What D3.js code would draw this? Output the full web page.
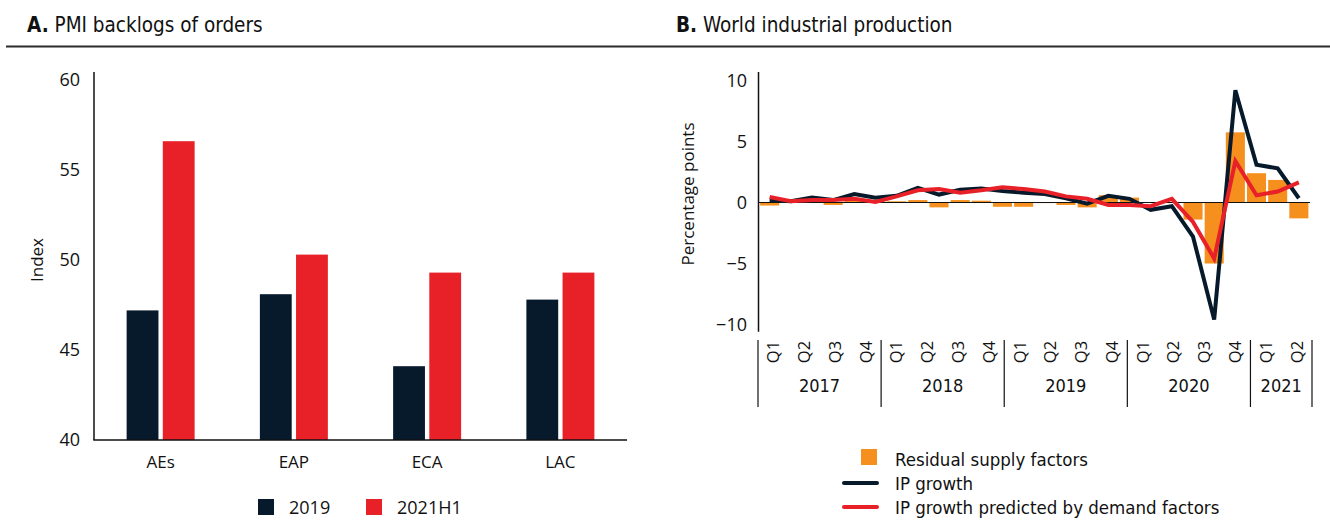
<!DOCTYPE html>
<html>
<head>
<meta charset="utf-8">
<script src="https://cdn.jsdelivr.net/npm/d3@7"></script>
<style>
  body { margin: 0; background: #fff; }
  svg { display: block; }
  .cond { font-family: "Liberation Sans Narrow", "DejaVu Sans Condensed", sans-serif; }
  .reg { font-family: "Open Sans", sans-serif; }
</style>
</head>
<body>
<script>
// panel A data
var regions = ["AEs", "EAP", "ECA", "LAC"];
var series = ["2019", "2021H1"];
var pmi2019 = [47.2, 48.1, 44.1, 47.8];
var pmi2021 = [56.6, 50.3, 49.3, 49.3];
var ticksA = [40, 45, 50, 55, 60];

// panel B data (one value per period)
var residual  = [-0.25, 0, 0, -0.2, 0.2, 0, 0.1, 0.2, -0.4, 0.2, 0.15, -0.35, -0.35,
                 -0.05, -0.2, -0.4, 0.6, 0.4, 0, -0.05, -1.4, -5.0, 5.75, 2.4, 1.85, -1.3];
var ipGrowth  = [0.2, 0.1, 0.4, 0.2, 0.7, 0.4, 0.55, 1.2, 0.65, 1.05, 1.15, 0.95, 0.8,
                 0.7, 0.35, -0.1, 0.55, 0.3, -0.6, -0.3, -2.8, -9.6, 9.2, 3.1, 2.8, 0.35];
var ipDemand  = [0.45, 0.1, 0.2, 0.2, 0.3, 0.05, 0.5, 1.0, 1.1, 0.8, 1.0, 1.25, 1.1,
                 0.9, 0.5, 0.3, -0.2, -0.2, -0.3, 0.3, -1.6, -4.6, 3.4, 0.6, 0.9, 1.65];
var quarters = ["Q1","Q2","Q3","Q4","Q1","Q2","Q3","Q4","Q1","Q2","Q3","Q4",
                "Q1","Q2","Q3","Q4","Q1","Q2"];
var years = ["2017", "2018", "2019", "2020", "2021"];
var yearQuarters = [4, 4, 4, 4, 2];
var ticksB = [-10, -5, 0, 5, 10];

var navy = "#071a2b", red = "#e82129", orange = "#f5901f";

var svg = d3.select("body").append("svg")
  .attr("width", 1330)
  .attr("height", 521);

// titles and rule
var titles = [{x: 27, bold: "A.", rest: " PMI backlogs of orders"},
              {x: 676, bold: "B.", rest: " World industrial production"}];
titles.forEach(function(t) {
  var tx = svg.append("text").attr("class", "cond")
    .attr("x", t.x).attr("y", 32)
    .attr("font-size", 20.5).attr("fill", "#111");
  tx.append("tspan").attr("font-weight", "bold").text(t.bold);
  tx.append("tspan").text(t.rest);
});
svg.append("line")
  .attr("x1", 6).attr("x2", 1330)
  .attr("y1", 46.5).attr("y2", 46.5)
  .attr("stroke", "#2b2b2b").attr("stroke-width", 2);

// ---------- panel A ----------
var xA = d3.scaleBand().domain(regions).range([94, 627]);
var xInner = d3.scaleBand().domain(series).range([xA.bandwidth() / 2 - 34, xA.bandwidth() / 2 + 34]).paddingInner(0.12);
var yA = d3.scaleLinear().domain([40, 60]).range([440, 80]);

var gA = svg.append("g");

var groups = gA.selectAll(".grp")
  .data(regions)
  .enter().append("g")
  .attr("class", "grp")
  .attr("transform", function(d) { return "translate(" + xA(d) + ",0)"; });

groups.append("rect")
  .attr("x", xInner("2019"))
  .attr("width", xInner.bandwidth())
  .attr("y", function(d, i) { return yA(pmi2019[i]); })
  .attr("height", function(d, i) { return yA(40) - yA(pmi2019[i]); })
  .attr("fill", navy);

groups.append("rect")
  .attr("x", xInner("2021H1"))
  .attr("width", xInner.bandwidth())
  .attr("y", function(d, i) { return yA(pmi2021[i]); })
  .attr("height", function(d, i) { return yA(40) - yA(pmi2021[i]); })
  .attr("fill", red);

// axes A
gA.append("line")
  .attr("x1", 94).attr("x2", 94)
  .attr("y1", yA(60.45)).attr("y2", yA(40))
  .attr("stroke", "#111").attr("stroke-width", 1.5);
gA.append("line")
  .attr("x1", 93.25).attr("x2", 627)
  .attr("y1", yA(40)).attr("y2", yA(40))
  .attr("stroke", "#111").attr("stroke-width", 1.5);

gA.selectAll(".ytA")
  .data(ticksA)
  .enter().append("text")
  .attr("class", "reg")
  .attr("x", 80).attr("y", function(d) { return yA(d); })
  .attr("dy", "0.36em")
  .attr("text-anchor", "end")
  .attr("font-size", 18).attr("fill", "#111")
  .text(function(d) { return d; });

gA.selectAll(".xtA")
  .data(regions)
  .enter().append("text")
  .attr("class", "reg")
  .attr("x", function(d) { return xA(d) + xA.bandwidth() / 2; })
  .attr("y", 468)
  .attr("text-anchor", "middle")
  .attr("font-size", 17).attr("font-weight", 500).attr("fill", "#111")
  .text(function(d) { return d; });

gA.append("text")
  .attr("class", "reg")
  .attr("transform", "translate(43,260) rotate(-90)")
  .attr("text-anchor", "middle")
  .attr("font-size", 17).attr("fill", "#111")
  .text("Index");

// legend A
var legA = [{label: "2019", color: navy, x: 258}, {label: "2021H1", color: red, x: 366}];
legA.forEach(function(l) {
  gA.append("rect").attr("x", l.x).attr("y", 499).attr("width", 16).attr("height", 16).attr("fill", l.color);
  gA.append("text").attr("class", "reg")
    .attr("x", l.x + 31).attr("y", 514)
    .attr("font-size", 18).attr("fill", "#111")
    .text(l.label);
});

// ---------- panel B ----------
var idx = d3.range(residual.length);
var xB = d3.scaleBand().domain(idx).range([758, 1310.5]).padding(0.1);
var yB = d3.scaleLinear().domain([-10, 10]).range([324.5, 80.5]);
var xQ = d3.scaleBand().domain(d3.range(quarters.length)).range([758, 1312]);

var gB = svg.append("g");

gB.selectAll(".res")
  .data(residual)
  .enter().append("rect")
  .attr("x", function(d, i) { return xB(i); })
  .attr("width", xB.bandwidth())
  .attr("y", function(d) { return yB(Math.max(0, d)); })
  .attr("height", function(d) { return Math.abs(yB(d) - yB(0)); })
  .attr("fill", orange);

gB.append("line")
  .attr("x1", 758).attr("x2", 1310)
  .attr("y1", yB(0)).attr("y2", yB(0))
  .attr("stroke", "#111").attr("stroke-width", 1);

var line = d3.line()
  .x(function(d, i) { return xB(i) + xB.bandwidth() / 2; })
  .y(function(d) { return yB(d); });

gB.append("path").datum(ipGrowth)
  .attr("d", line).attr("fill", "none")
  .attr("stroke", navy).attr("stroke-width", 4).attr("stroke-linejoin", "miter");
gB.append("path").datum(ipDemand)
  .attr("d", line).attr("fill", "none")
  .attr("stroke", red).attr("stroke-width", 4).attr("stroke-linejoin", "miter");

// y axis B
gB.append("line")
  .attr("x1", 758.5).attr("x2", 758.5)
  .attr("y1", yB(10.7)).attr("y2", yB(-10.6))
  .attr("stroke", "#111").attr("stroke-width", 1.5);

gB.selectAll(".ytB")
  .data(ticksB)
  .enter().append("text")
  .attr("class", "reg")
  .attr("x", 747).attr("y", function(d) { return yB(d); })
  .attr("dy", "0.36em")
  .attr("text-anchor", "end")
  .attr("font-size", 18).attr("fill", "#111")
  .text(function(d) { return d < 0 ? "\u2212" + Math.abs(d) : d; });

gB.append("text")
  .attr("class", "reg")
  .attr("transform", "translate(694,194) rotate(-90)")
  .attr("text-anchor", "middle")
  .attr("font-size", 17).attr("fill", "#111")
  .text("Percentage points");

// quarter / year axis
gB.selectAll(".qt")
  .data(quarters)
  .enter().append("text")
  .attr("class", "reg")
  .attr("transform", function(d, i) {
    return "translate(" + (xQ(i) + xQ.bandwidth() / 2) + ",352) rotate(-90)";
  })
  .attr("text-anchor", "middle")
  .attr("dy", "0.36em")
  .attr("font-size", 16.5).attr("fill", "#111")
  .text(function(d) { return d; });

var start = 0;
var seps = [0];
years.forEach(function(y, k) {
  var x0 = xQ(start), x1 = xQ(start + yearQuarters[k] - 1) + xQ.bandwidth();
  gB.append("text").attr("class", "cond")
    .attr("x", (x0 + x1) / 2).attr("y", 392)
    .attr("text-anchor", "middle")
    .attr("font-size", 18).attr("fill", "#111")
    .text(y);
  start += yearQuarters[k];
  seps.push(start);
});

gB.selectAll(".sep")
  .data(seps)
  .enter().append("line")
  .attr("x1", function(d) { return d < quarters.length ? xQ(d) : xQ(d - 1) + xQ.bandwidth(); })
  .attr("x2", function(d) { return d < quarters.length ? xQ(d) : xQ(d - 1) + xQ.bandwidth(); })
  .attr("y1", 340).attr("y2", 407)
  .attr("stroke", "#111").attr("stroke-width", 1.2);

// legend B
gB.append("rect").attr("x", 861).attr("y", 449).attr("width", 16).attr("height", 16).attr("fill", orange);
gB.append("line").attr("x1", 844).attr("x2", 877).attr("y1", 483).attr("y2", 483)
  .attr("stroke", navy).attr("stroke-width", 4).attr("stroke-linecap", "round");
gB.append("line").attr("x1", 844).attr("x2", 877).attr("y1", 507).attr("y2", 507)
  .attr("stroke", red).attr("stroke-width", 4).attr("stroke-linecap", "round");
var legB = ["Residual supply factors", "IP growth", "IP growth predicted by demand factors"];
gB.selectAll(".legB")
  .data(legB)
  .enter().append("text")
  .attr("class", "cond")
  .attr("x", 895)
  .attr("y", function(d, i) { return 466 + i * 24; })
  .attr("font-size", 18.5).attr("fill", "#111")
  .text(function(d) { return d; });
</script>
</body>
</html>
